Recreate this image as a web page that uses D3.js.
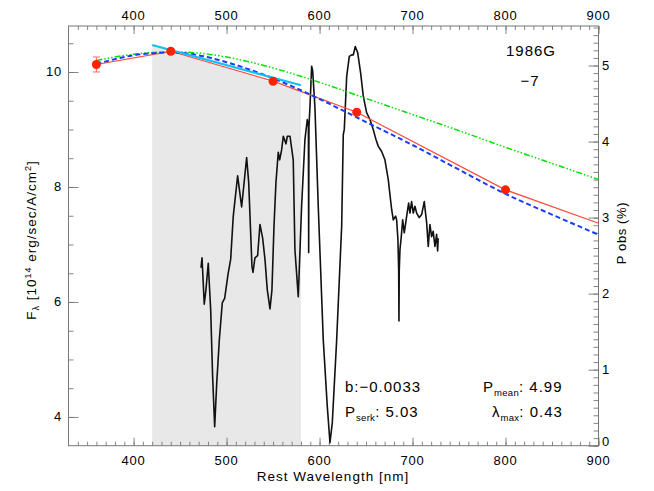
<!DOCTYPE html>
<html><head><meta charset="utf-8">
<script src="https://cdn.jsdelivr.net/npm/d3@7"></script>
<style>
body{margin:0;background:#fff}
text{font-family:"Liberation Sans",Arial,sans-serif;fill:#000}
</style>
</head><body>
<svg id="c" width="654" height="491"></svg>
<script>
// ---- data ----
const xTicks=[400,500,600,700,800,900];
const leftTicks=[4,6,8,10];
const rightTicks=[0,1,2,3,4,5];
const bandWl=[420,580];
const bandTop=[10.47,9.66];
const photWl=[360,440,550,640,800];
const photFlux=[10.13,10.36,9.84,9.30,7.95];
const photErr=[0.13,0.03,0.03,0.02,0.02];
const redWl=[360,440,550,640,800,900];
const redFlux=[10.13,10.36,9.84,9.30,7.95,7.37];
const greenWl=[360,400,440,470,500,550,600,650,700,750,800,850,900];
const greenFlux=[10.20,10.31,10.35,10.33,10.26,10.07,9.82,9.54,9.26,8.98,8.69,8.41,8.13];
const blueWl=[360,400,440,470,500,550,600,640,700,750,800,850,900];
const blueFlux=[10.14,10.29,10.34,10.29,10.17,9.89,9.53,9.21,8.73,8.30,7.88,7.52,7.17];
const cyanWl=[420,580];
const cyanFlux=[10.47,9.77];
const specWl=[472.5,473.6,476,477.8,480.3,482.9,485,487.2,489.4,492.2,495.4,498,501.5,504.4,507.2,511.9,516.2,521.6,523.8,527.3,528.4,530.5,533.4,535.9,538.8,541.3,543.8,546.7,548.8,551,553.1,555.6,557.1,559.2,561,563.9,565.3,568.2,571.7,573.5,577.1,580.7,584.3,586.8,588.0,588.3,588.6,589.7,591.5,592.6,595,598.6,604,608.3,611.2,613.7,618.4,623.8,625.5,626.6,629.2,632,634.5,636.3,638.4,641,644.2,647,650.6,654.2,657.7,660.6,663.1,666.8,670.3,673.9,677.5,679.3,681.8,682.9,684.3,685.1,685.4,685.7,686.5,687.9,689.4,691.1,693.7,695.8,697.2,699,700.8,702.6,704.4,707.2,709.8,712.6,715.2,716.9,718.7,720.5,722.2,724.1,725.9,727,727.6];
const specP=[2.34,2.47,1.86,2.05,2.40,1.79,0.91,0.25,0.82,1.39,1.88,1.94,2.25,2.45,3.02,3.55,3.14,3.79,3.46,2.36,2.28,2.47,2.50,2.91,2.73,2.45,2.05,1.80,2.05,2.89,3.46,3.86,3.76,3.89,4.07,3.97,4.07,4.07,3.76,2.58,1.96,3.15,4.03,4.29,4.20,2.54,4.20,4.46,4.99,4.93,4.46,3.15,1.39,0.52,0.04,0.30,1.39,2.89,4.09,4.16,4.86,5.12,5.14,5.14,5.25,5.17,4.90,4.60,4.38,4.29,4.16,4.03,3.94,3.87,3.76,3.50,3.11,2.97,3.02,2.97,2.71,2.3,1.64,2.3,2.58,2.75,2.97,2.80,3.02,3.19,3.06,3.21,3.06,3.15,3.06,3.00,3.04,3.21,2.93,2.62,2.91,2.75,2.82,2.62,2.78,2.56,2.73];

// ---- layout ----
const L=68.5,R=598.5,T=26,B=445.7;
const svg=d3.select("#c");
const x=d3.scaleLinear().domain([330,900]).range([L,R]);
const y=d3.scaleLinear().domain([3.5,10.8]).range([B,T]);
const yr=d3.scaleLinear().domain([0,5.52]).range([B,T]);
const axisCol="#777";

// gray band
svg.append("path")
  .attr("d",`M${x(bandWl[0])},${B}L${x(bandWl[0])},${y(bandTop[0])}L${x(bandWl[1])},${y(bandTop[1])}L${x(bandWl[1])},${B}Z`)
  .attr("fill","#e8e8e8");

// frame
svg.append("rect").attr("x",L).attr("y",T).attr("width",R-L).attr("height",B-T)
  .attr("fill","none").attr("stroke",axisCol).attr("stroke-width",1);

// axes (ticks inward)
const xMinor=d3.range(340,901,10);
svg.append("g").attr("transform",`translate(0,${B})`)
  .call(d3.axisTop(x).tickValues(xMinor).tickSize(4).tickFormat(""));
svg.append("g").attr("transform",`translate(0,${B})`)
  .call(d3.axisTop(x).tickValues(xTicks).tickSize(8).tickFormat(""));
svg.append("g").attr("transform",`translate(0,${T})`)
  .call(d3.axisBottom(x).tickValues(xMinor).tickSize(4).tickFormat(""));
svg.append("g").attr("transform",`translate(0,${T})`)
  .call(d3.axisBottom(x).tickValues(xTicks).tickSize(8).tickFormat(""));
const lMinor=d3.range(4,10.8,0.5);
svg.append("g").attr("transform",`translate(${L},0)`)
  .call(d3.axisRight(y).tickValues(lMinor).tickSize(5).tickFormat(""));
svg.append("g").attr("transform",`translate(${L},0)`)
  .call(d3.axisRight(y).tickValues(leftTicks).tickSize(10).tickFormat(""));
const rMinor=d3.range(0,5.51,0.1);
svg.append("g").attr("transform",`translate(${R},0)`)
  .call(d3.axisLeft(yr).tickValues(rMinor).tickSize(5).tickFormat(""));
svg.append("g").attr("transform",`translate(${R},0)`)
  .call(d3.axisLeft(yr).tickValues(rightTicks).tickSize(10).tickFormat(""));
svg.selectAll(".domain").remove();
svg.selectAll(".tick line").attr("stroke",axisCol).attr("stroke-width",0.9);

// tick labels
const tf="13px";
svg.append("g").selectAll("text").data(xTicks).join("text")
  .attr("x",d=>x(d)).attr("y",465).attr("text-anchor","middle").attr("font-size",tf)
  .attr("letter-spacing","0.8px").text(d=>d);
svg.append("g").selectAll("text").data(xTicks).join("text")
  .attr("x",d=>x(d)).attr("y",20).attr("text-anchor","middle").attr("font-size",tf)
  .attr("letter-spacing","0.8px").text(d=>d);
svg.append("g").selectAll("text").data(leftTicks).join("text")
  .attr("x",62).attr("y",d=>y(d)+4.5).attr("text-anchor","end").attr("font-size",tf)
  .attr("letter-spacing","0.8px").text(d=>d);
svg.append("g").selectAll("text").data(rightTicks).join("text")
  .attr("x",602).attr("y",d=>d===0?yr(d)+0.5:yr(d)+4.5).attr("text-anchor","start").attr("font-size",tf)
  .text(d=>d);

// axis titles
svg.append("text").attr("x",333).attr("y",481).attr("text-anchor","middle")
  .attr("font-size","13.5px").attr("letter-spacing","1px").text("Rest Wavelength [nm]");
const lt=svg.append("text").attr("transform","translate(36,240) rotate(-90)")
  .attr("text-anchor","middle").attr("font-size","13.5px").attr("letter-spacing","1px");
lt.append("tspan").text("F");
lt.append("tspan").attr("font-size","9px").attr("dy",3).text("λ");
lt.append("tspan").attr("dy",-3).text(" [10");
lt.append("tspan").attr("font-size","9px").attr("dy",-5).text("14");
lt.append("tspan").attr("dy",5).text(" erg/sec/A/cm");
lt.append("tspan").attr("font-size","9px").attr("dy",-5).text("2");
lt.append("tspan").attr("dy",5).text("]");
svg.append("text").attr("transform","translate(626,233) rotate(-90)")
  .attr("text-anchor","middle").attr("font-size","13px").attr("letter-spacing","0.6px").text("P obs (%)");

// spectrum (right axis)
const spec=specWl.map((w,i)=>[w,specP[i]]);
svg.append("path").datum(spec)
  .attr("d",d3.line().x(d=>x(d[0])).y(d=>yr(d[1])))
  .attr("fill","none").attr("stroke","#111").attr("stroke-width",1.6).attr("stroke-linejoin","round");

// model curves
const line=d3.line().x(d=>x(d[0])).y(d=>y(d[1]));
const smooth=d3.line().x(d=>x(d[0])).y(d=>y(d[1])).curve(d3.curveMonotoneX);
svg.append("path").datum(greenWl.map((w,i)=>[w,greenFlux[i]]))
  .attr("d",smooth).attr("fill","none").attr("stroke","#00e000").attr("stroke-width",1.5)
  .attr("stroke-dasharray","6,2,1.5,2,1.5,2,1.5,2");
svg.append("path").datum(redWl.map((w,i)=>[w,redFlux[i]]))
  .attr("d",line).attr("fill","none").attr("stroke","#ff4a3a").attr("stroke-width",1.2);
svg.append("path").datum(blueWl.map((w,i)=>[w,blueFlux[i]]))
  .attr("d",smooth).attr("fill","none").attr("stroke","#1a3cff").attr("stroke-width",2)
  .attr("stroke-dasharray","5,3");
svg.append("path").datum(cyanWl.map((w,i)=>[w,cyanFlux[i]]))
  .attr("d",line).attr("fill","none").attr("stroke","#10c0f0").attr("stroke-width",2.2);

// photometric points with error bars
const pts=photWl.map((w,i)=>({w,f:photFlux[i],e:photErr[i]}));
const eb=svg.append("g").attr("stroke","#ff6a5a").attr("stroke-width",1);
eb.selectAll(".v").data(pts).join("line")
  .attr("x1",d=>x(d.w)).attr("x2",d=>x(d.w)).attr("y1",d=>y(d.f-d.e)).attr("y2",d=>y(d.f+d.e));
eb.selectAll(".t").data(pts).join("line")
  .attr("x1",d=>x(d.w)-3.5).attr("x2",d=>x(d.w)+3.5).attr("y1",d=>y(d.f+d.e)).attr("y2",d=>y(d.f+d.e));
eb.selectAll(".b").data(pts).join("line")
  .attr("x1",d=>x(d.w)-3.5).attr("x2",d=>x(d.w)+3.5).attr("y1",d=>y(d.f-d.e)).attr("y2",d=>y(d.f-d.e));
svg.append("g").selectAll("circle").data(pts).join("circle")
  .attr("cx",d=>x(d.w)).attr("cy",d=>y(d.f)).attr("r",4.5).attr("fill","#ff2200");

// annotations
const af="15px", ls="1px";
svg.append("text").attr("x",531).attr("y",56).attr("text-anchor","middle").attr("font-size",af).attr("letter-spacing",ls).text("1986G");
svg.append("text").attr("x",530).attr("y",86).attr("text-anchor","middle").attr("font-size",af).attr("letter-spacing",ls).text("−7");
svg.append("text").attr("x",345).attr("y",392).attr("font-size",af).attr("letter-spacing",ls).text("b:−0.0033");
function subText(xp,yp,main,sub,rest){
  const t=svg.append("text").attr("x",xp).attr("y",yp).attr("font-size",af).attr("letter-spacing",ls);
  t.append("tspan").text(main);
  t.append("tspan").attr("font-size","9.5px").attr("letter-spacing","0.3px").attr("dy",4).text(sub);
  t.append("tspan").attr("dy",-4).text(rest);
}
subText(345,417,"P","serk",": 5.03");
subText(483,392,"P","mean",": 4.99");
subText(492,417,"λ","max",": 0.43");
</script>
</body></html>
